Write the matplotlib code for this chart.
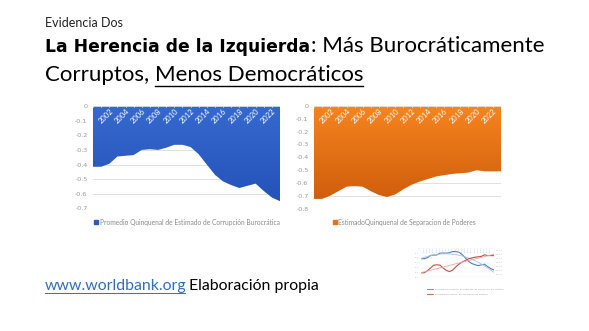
import numpy as np
import matplotlib
matplotlib.use('Agg')
import matplotlib.pyplot as plt
from matplotlib.colors import LinearSegmentedColormap
from matplotlib.lines import Line2D

# ---------------- data ----------------
years = list(range(2000, 2024))
corrupcion = [-0.415, -0.415, -0.395, -0.345, -0.34, -0.335, -0.30, -0.295, -0.30, -0.285,
              -0.265, -0.265, -0.28, -0.33, -0.40, -0.47, -0.515, -0.54, -0.56, -0.545,
              -0.53, -0.58, -0.625, -0.65]
separacion = [-0.725, -0.725, -0.70, -0.665, -0.63, -0.625, -0.63, -0.665, -0.695, -0.71,
              -0.69, -0.65, -0.615, -0.59, -0.57, -0.55, -0.54, -0.53, -0.525, -0.52,
              -0.50, -0.51, -0.51, -0.51]
label_years = years[2::2]
yticks1 = [0, -0.1, -0.2, -0.3, -0.4, -0.5, -0.6, -0.7]
yticks2 = [0, -0.1, -0.2, -0.3, -0.4, -0.5, -0.6, -0.7, -0.8]
legend1 = "Promedio Quinquenal de Estimado de Corrupción Burocrática"
legend2 = "EstimadoQuinquenal de Separacion de Poderes"

W, H = 589, 331
fig = plt.figure(figsize=(W / 100, H / 100), dpi=100)
fig.patch.set_facecolor('white')

def px(x0, y0, x1, y1):
    return [x0 / W, 1 - y1 / H, (x1 - x0) / W, (y1 - y0) / H]

def area_chart(rect, vals, ylim, yticks, ctop, cbot):
    ax = fig.add_axes(rect)
    ax.set_xlim(years[0], years[-1])
    ax.set_ylim(*ylim)
    for s in ax.spines.values():
        s.set_visible(False)
    ax.set_yticks(yticks)
    ax.set_yticklabels([('%g' % t) for t in yticks])
    ax.tick_params(axis='y', length=0, labelsize=4.6, labelcolor='#9a9a9a', pad=4)
    ax.set_xticks([])
    ax.grid(axis='y', color='#dcdcdc', linewidth=0.6)
    ax.set_axisbelow(True)
    poly = ax.fill_between(years, vals, 0, color='none', lw=0)
    cmap = LinearSegmentedColormap.from_list('g', [cbot, ctop])
    grad = np.linspace(0, 1, 256).reshape(-1, 1)
    im = ax.imshow(grad, cmap=cmap, aspect='auto', origin='lower',
                   extent=[years[0], years[-1], min(vals), 0], zorder=2)
    path = poly.get_paths()[0]
    im.set_clip_path(path, transform=ax.transData)
    ax.axhline(0, color='#e8e8e8', lw=0.6, zorder=3)
    for yr in years:
        ax.plot([yr, yr], [0, -0.008 * (ylim[1] - ylim[0]) / 0.7], color='#e8e8e8', lw=0.5, zorder=3)
    for yr in label_years:
        ax.text(yr, -0.012, str(yr), rotation=45, rotation_mode='anchor', ha='right', va='top',
                color='white', fontsize=5.4, family='Lato', zorder=4)
    ax.set_ylim(*ylim)
    return ax

ax1 = area_chart(px(93, 106, 280, 208.5), corrupcion, (-0.7, 0), yticks1, '#3669cf', '#2453b8')
ax2 = area_chart(px(314, 106, 501, 208.5), separacion, (-0.8, 0), yticks2, '#f6841f', '#d05e0c')

# legends
fig.add_artist(Line2D([95.5 / W], [1 - 222 / H], marker='s', markersize=2.8, color='#2a5cc0', lw=0))
fig.text(99.5 / W, 1 - 222 / H, legend1, color='#8a8a8a', fontsize=4.75, va='center', ha='left', family='Lato')
fig.add_artist(Line2D([334.5 / W], [1 - 222 / H], marker='s', markersize=2.8, color='#e96e15', lw=0))
fig.text(338.5 / W, 1 - 222 / H, legend2, color='#8a8a8a', fontsize=4.75, va='center', ha='left', family='Lato')

# ---------------- thumbnail chart ----------------
axt = fig.add_axes(px(421, 248, 494, 278))
axt.plot(years, corrupcion, color='#4f7fbf', lw=0.8)
axt.set_xlim(years[0], years[-1])
axt.set_ylim(-0.82, -0.19)
x = np.array(years)
c2 = np.polyfit(x - 2000, corrupcion, 2)
axt.plot(years, np.polyval(c2, x - 2000), color='#a8c0e0', lw=0.6)
axt.set_xticks([])
axt.set_yticks([-0.2, -0.3, -0.4, -0.5, -0.6, -0.7, -0.8])
axt.tick_params(axis='y', length=0, labelsize=1.6, labelcolor='#bbbbbb', pad=1)
axt.set_yticklabels(['0', '-0.1', '-0.2', '-0.3', '-0.4', '-0.5', '-0.6'])
for s in axt.spines.values():
    s.set_visible(False)
axt.grid(axis='y', color='#eeeeee', lw=0.3)
for yr in years[1:-1]:
    axt.text(yr, -0.22, '2000', rotation=90, fontsize=1.5, color='#b8cce6', ha='center', va='center')
axt2 = axt.twinx()
axt2.plot(years, separacion, color='#c0504d', lw=0.8)
c1 = np.polyfit(x - 2000, separacion, 1)
axt2.plot(years, np.polyval(c1, x - 2000), color='#e6a8a6', lw=0.6)
axt2.set_ylim(-0.79, -0.415)
axt2.set_yticks([-0.45, -0.5, -0.55, -0.6, -0.65, -0.7, -0.75])
axt2.tick_params(axis='y', length=0, labelsize=1.6, labelcolor='#bbbbbb', pad=1)
for s in axt2.spines.values():
    s.set_visible(False)
fig.add_artist(Line2D([427 / W, 433 / W], [1 - 289 / H] * 2, color='#4f7fbf', lw=0.6))
fig.add_artist(Line2D([427 / W, 433 / W], [1 - 294 / H] * 2, color='#c0504d', lw=0.6))
fig.text(435 / W, 1 - 289 / H, legend1, fontsize=1.6, color='#999999', va='center')
fig.text(435 / W, 1 - 294 / H, legend2, fontsize=1.6, color='#999999', va='center')

# ---------------- slide texts ----------------
fig.canvas.draw()
r = fig.canvas.get_renderer()

fig.text(45 / W, 1 - 27 / H, 'Evidencia Dos', fontsize=9, family='Lato', va='baseline', color='#222222')

t1 = fig.text(45 / W, 1 - 52 / H, 'La Herencia de la Izquierda', fontsize=12.3, family='DejaVu Sans',
              weight='bold', va='baseline', color='black')
bb = t1.get_window_extent(r)
t2 = fig.text(bb.x1 / W + 0.002, 1 - 52 / H, ': Más Burocráticamente', fontsize=16, family='Lato',
              va='baseline', color='black')
t3 = fig.text(45 / W, 1 - 81 / H, 'Corruptos, ', fontsize=16, family='Lato', va='baseline', color='black')
bb3 = t3.get_window_extent(r)
t4 = fig.text(bb3.x1 / W, 1 - 81 / H, 'Menos Democráticos', fontsize=16, family='Lato',
              va='baseline', color='black')
bb4 = t4.get_window_extent(r)
fig.add_artist(Line2D([bb4.x0 / W, bb4.x1 / W], [1 - 86 / H] * 2, color='black', lw=1.0))

t5 = fig.text(45 / W, 1 - 290 / H, 'www.worldbank.org', fontsize=11.4, family='Lato', va='baseline',
              color='#2f6fc0')
bb5 = t5.get_window_extent(r)
fig.add_artist(Line2D([bb5.x0 / W, bb5.x1 / W - 0.003], [1 - 293 / H] * 2, color='#2f6fc0', lw=0.7))
fig.text(bb5.x1 / W + 0.004, 1 - 290 / H, 'Elaboración propia', fontsize=11.4, family='Lato',
         va='baseline', color='black')

fig.savefig('out.png', dpi=100, facecolor='white')
